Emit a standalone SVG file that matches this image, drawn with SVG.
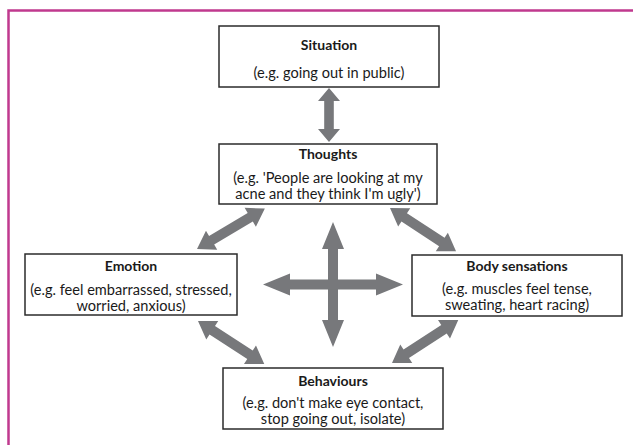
<svg xmlns="http://www.w3.org/2000/svg" xmlns:xlink="http://www.w3.org/1999/xlink" width="633" height="445" viewBox="0 0 633 445">
<style>
.box{fill:#fff;stroke:#2b2b2b;stroke-width:1.5}
.t{font-family:Lato,"Liberation Sans",sans-serif;font-size:14.6px;fill:#1a1a1a;text-anchor:middle}
.b{font-weight:bold;font-size:14px}
.arr{fill:#77787b}
</style>
<defs>
<polygon id="diag" points="0,0 17,-11 17,-5 62,-5 62,-11 79,0 62,11 62,5 17,5 17,11"/>
</defs>
<rect width="633" height="445" fill="#fff"/>
<path d="M8.5,445 V10.5 H633" fill="none" stroke="#c0398e" stroke-width="2.5"/>
<g id="connectors" class="arr">
<polygon points="0,0 13,-11 13,-4.8 41,-4.8 41,-11 54,0 41,11 41,4.8 13,4.8 13,11" transform="translate(329,88) rotate(90)"/>
<use xlink:href="#diag" transform="translate(197,249) rotate(-30.8)"/>
<use xlink:href="#diag" transform="translate(390,208) rotate(33.3)"/>
<use xlink:href="#diag" transform="translate(198,321) rotate(33)"/>
<use xlink:href="#diag" transform="translate(392,363) rotate(-33)"/>
<polygon points="0,0 27,-11 27,-5 98,-5 98,-11 125,0 98,11 98,5 27,5 27,11" transform="translate(333,222) rotate(90)"/>
<polygon points="0,0 27,-11 27,-5 113,-5 113,-11 140,0 113,11 113,5 27,5 27,11" transform="translate(263,284.5)"/>
</g>
<g id="situation">
<rect class="box" x="219" y="26" width="220" height="61"/>
<text class="t b" x="329" y="50">Situation</text>
<text class="t" x="329" y="78">(e.g. going out in public)</text>
</g>
<g id="thoughts">
<rect class="box" x="219" y="144" width="218" height="60"/>
<text class="t b" x="328" y="159">Thoughts</text>
<text class="t" x="328" y="183">(e.g. 'People are looking at my</text>
<text class="t" x="328" y="199">acne and they think I'm ugly')</text>
</g>
<g id="emotion">
<rect class="box" x="25" y="254" width="212" height="61"/>
<text class="t b" x="131" y="271">Emotion</text>
<text class="t" x="131" y="295">(e.g. feel embarrassed, stressed,</text>
<text class="t" x="131" y="311">worried, anxious)</text>
</g>
<g id="body-sensations">
<rect class="box" x="412" y="255" width="210" height="61"/>
<text class="t b" x="517" y="271">Body sensations</text>
<text class="t" x="517" y="294">(e.g. muscles feel tense,</text>
<text class="t" x="517" y="310">sweating, heart racing)</text>
</g>
<g id="behaviours">
<rect class="box" x="223" y="368" width="220" height="61"/>
<text class="t b" x="333" y="386">Behaviours</text>
<text class="t" x="333" y="408">(e.g. don't make eye contact,</text>
<text class="t" x="333" y="424">stop going out, isolate)</text>
</g>
</svg>
